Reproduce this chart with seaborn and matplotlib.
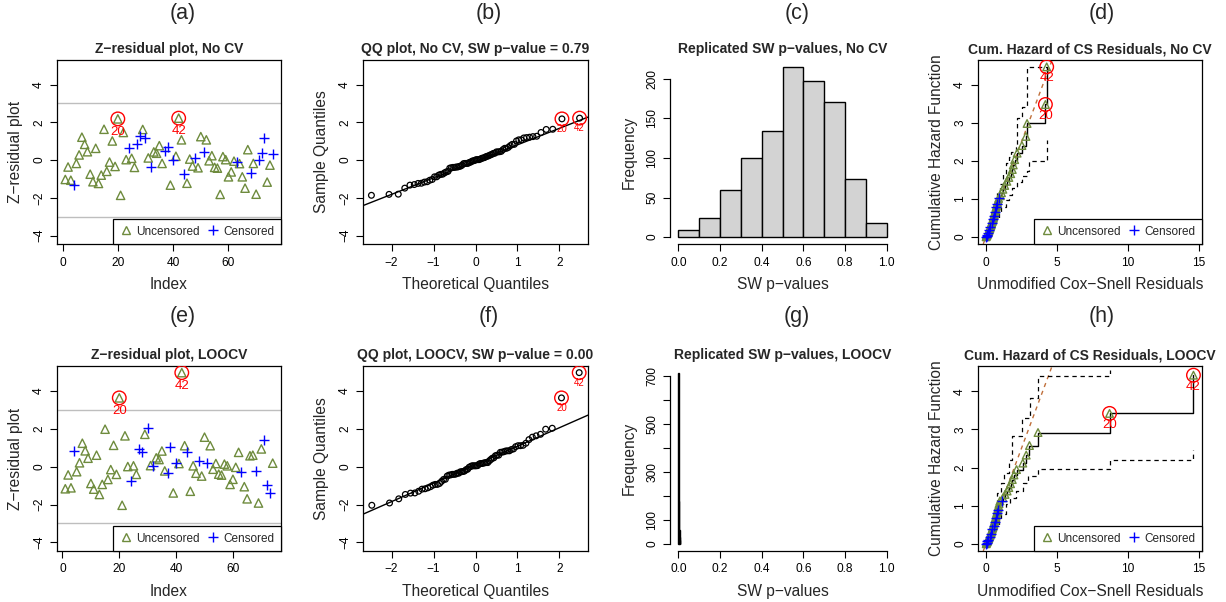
import numpy as np
import pandas as pd
import matplotlib
matplotlib.use("Agg")
import matplotlib.pyplot as plt
import seaborn as sns
from matplotlib.lines import Line2D
from statistics import NormalDist

# ------------------------------------------------------------------ data
# Z-residuals, No CV (panel a), in index order 1..76
z_nocv = [-1.03, -0.37, -1.07, -1.30, -0.18, 0.27, 1.21, 0.83, 0.44, -0.75,
          -1.15, 0.62, -1.24, -0.80, 1.63, -0.60, -0.11, 1.01, -0.34, 2.18,
          -1.87, 1.46, 0.02, 0.62, 0.09, -0.39, 0.83, 1.26, 1.62, 1.19,
          0.11, -0.37, 0.43, 0.36, 0.76, -0.18, 0.46, 0.67, -1.33, -0.02,
          0.20, 2.22, 1.07, -0.76, -1.23, 0.05, -0.32, 0.13, -0.41, 1.24,
          0.43, 1.07, -0.04, 0.23, -0.39, -0.43, -1.82, 0.18, 0.02, -0.89,
          -0.63, -0.06, -0.13, -0.19, -0.89, -1.49, 0.55, -0.68, -0.18, -1.81,
          0.02, 0.35, 1.17, -1.17, -0.27, 0.30]
censored_nocv = [4, 24, 27, 28, 30, 32, 37, 38, 40, 44, 48, 51, 63, 68, 71, 72, 73, 76]

# Z-residuals, LOOCV (panel e)
z_loocv = [-1.17, -0.44, -1.12, 0.83, -0.27, 0.20, 1.23, 0.83, 0.44, -0.89,
           -1.19, 0.60, -1.47, -0.94, 1.97, -0.68, -0.16, 1.12, -0.41, 3.62,
           -2.04, 1.62, 0.00, -0.78, 0.04, -0.41, 0.90, 0.76, 1.70, 2.02,
           0.05, 0.04, 0.46, 0.37, 0.82, -0.23, -0.35, 1.05, -1.39, 0.21,
           0.16, 4.95, 1.10, 0.78, -1.30, 0.04, -0.35, 0.30, -0.50, 1.55,
           0.21, 1.10, -0.14, 0.16, -0.40, -0.45, 0.13, 0.04, -0.94, -0.67,
           -0.04, 0.75, -0.28, -1.06, -1.70, 0.57, 0.60, -0.26, -1.92, 0.93,
           1.42, -0.98, -1.40, 0.18]
censored_loocv = [4, 24, 27, 28, 30, 32, 37, 38, 40, 44, 48, 51, 63, 68, 71, 72, 73]

outlier_ids = [20, 42]

# QQ reference lines (intercept, slope)
qq_line_nocv = (-0.07, 0.875)
qq_line_loocv = (0.10, 0.974)
sw_p_nocv = "0.79"
sw_p_loocv = "0.00"

# Replicated SW p-value histograms
hist_edges_nocv = [0.0, 0.1, 0.2, 0.3, 0.4, 0.5, 0.6, 0.7, 0.8, 0.9, 1.0]
hist_counts_nocv = [9, 24, 60, 100, 134, 215, 197, 170, 73, 18]
hist_edges_loocv = [0.0, 0.002, 0.004, 0.006, 0.008, 0.010]
hist_counts_loocv = [712, 180, 60, 30, 18]

# Cox-Snell residuals vs cumulative hazard, No CV (panel d)
cs_x_nocv = [0.01, 0.02, 0.04, 0.05, 0.07, 0.09, 0.10, 0.12, 0.15, 0.16,
             0.18, 0.21, 0.23, 0.24, 0.27, 0.29, 0.31, 0.32, 0.35, 0.37,
             0.39, 0.41, 0.43, 0.45, 0.47, 0.49, 0.50, 0.52, 0.54, 0.56,
             0.58, 0.60, 0.62, 0.64, 0.66, 0.68, 0.70, 0.72, 0.74, 0.76,
             0.78, 0.80, 0.82, 0.86, 0.90, 0.95, 1.02, 1.10, 1.20, 1.33,
             1.48, 1.62, 1.75, 1.86, 1.93, 2.03, 2.20, 2.54, 2.82, 2.90,
             4.19, 4.28]
cs_h_nocv = [0.01, 0.01, 0.03, 0.03, 0.05, 0.06, 0.06, 0.09, 0.11, 0.11,
             0.14, 0.16, 0.19, 0.19, 0.22, 0.24, 0.27, 0.27, 0.30, 0.33,
             0.35, 0.38, 0.38, 0.41, 0.44, 0.47, 0.47, 0.50, 0.53, 0.56,
             0.56, 0.60, 0.63, 0.67, 0.67, 0.71, 0.75, 0.79, 0.79, 0.83,
             0.87, 0.87, 0.91, 0.96, 1.02, 1.02, 1.09, 1.17, 1.26, 1.36,
             1.47, 1.57, 1.67, 1.78, 1.90, 2.04, 2.21, 2.41, 2.65, 2.99,
             3.49, 4.48]
cs_event_nocv = [0, 1, 1, 0, 1, 1, 0, 1, 1, 0,
                 1, 1, 1, 0, 1, 1, 1, 0, 1, 1,
                 1, 1, 0, 1, 1, 1, 0, 1, 1, 1,
                 0, 1, 1, 1, 0, 1, 1, 1, 0, 1,
                 1, 0, 1, 1, 1, 0, 1, 1, 1, 1,
                 1, 1, 1, 1, 1, 1, 1, 1, 1, 1,
                 1, 1]
band_up_x_nocv = [0.00, 0.10, 0.25, 0.40, 0.55, 0.70, 0.81, 1.00, 1.20, 1.40, 1.60, 1.80, 2.09, 2.20, 2.56, 2.90, 4.28]
band_up_y_nocv = [0.05, 0.20, 0.40, 0.60, 0.80, 1.00, 1.20, 1.40, 1.65, 1.95, 2.10, 2.25, 2.38, 3.13, 3.43, 4.48, 4.48]
band_lo_x_nocv = [0.00, 0.15, 0.30, 0.50, 0.70, 0.90, 1.10, 1.40, 1.60, 1.86, 2.20, 2.56, 2.90, 3.02, 4.19, 4.28]
band_lo_y_nocv = [0.00, 0.08, 0.18, 0.32, 0.48, 0.63, 0.80, 0.99, 1.12, 1.29, 1.45, 1.60, 1.75, 2.01, 2.03, 2.56]

# Cox-Snell residuals vs cumulative hazard, LOOCV (panel h)
cs_x_loocv = [0.01, 0.03, 0.04, 0.06, 0.08, 0.10, 0.11, 0.13, 0.16, 0.17,
              0.20, 0.22, 0.25, 0.26, 0.29, 0.31, 0.33, 0.35, 0.37, 0.40,
              0.42, 0.44, 0.46, 0.48, 0.50, 0.52, 0.54, 0.56, 0.58, 0.60,
              0.62, 0.64, 0.66, 0.68, 0.70, 0.72, 0.74, 0.76, 0.78, 0.80,
              0.82, 0.84, 0.86, 0.89, 0.93, 0.99, 1.12, 1.20, 1.35, 1.50,
              1.62, 1.74, 1.86, 1.98, 2.16, 2.60, 2.84, 3.07, 3.67, 8.70,
              14.60]
cs_h_loocv = [0.01, 0.01, 0.03, 0.03, 0.05, 0.07, 0.07, 0.09, 0.12, 0.12,
              0.14, 0.17, 0.19, 0.19, 0.22, 0.25, 0.27, 0.27, 0.30, 0.33,
              0.36, 0.39, 0.39, 0.42, 0.45, 0.48, 0.48, 0.51, 0.55, 0.58,
              0.58, 0.62, 0.65, 0.69, 0.69, 0.73, 0.77, 0.81, 0.81, 0.85,
              0.89, 0.89, 0.94, 1.00, 1.06, 1.13, 1.13, 1.21, 1.30, 1.39,
              1.48, 1.58, 1.69, 1.81, 1.95, 2.12, 2.33, 2.58, 2.92, 3.42,
              4.42]
cs_event_loocv = [0, 1, 1, 0, 1, 1, 0, 1, 1, 0,
                  1, 1, 1, 0, 1, 1, 1, 0, 1, 1,
                  1, 1, 0, 1, 1, 1, 0, 1, 1, 1,
                  0, 1, 1, 1, 0, 1, 1, 1, 0, 1,
                  1, 0, 1, 1, 1, 1, 0, 1, 1, 1,
                  1, 1, 1, 1, 1, 1, 1, 1, 1, 1,
                  1]
band_up_x_loocv = [0.00, 0.10, 0.25, 0.40, 0.55, 0.70, 0.81, 1.05, 1.28, 1.63, 1.86, 2.56, 3.14, 3.67, 8.70]
band_up_y_loocv = [0.05, 0.20, 0.40, 0.60, 0.80, 1.05, 1.35, 1.60, 1.86, 2.20, 2.83, 3.30, 3.82, 4.39, 4.55]
band_lo_x_loocv = [0.00, 0.15, 0.30, 0.50, 0.70, 0.90, 1.10, 1.40, 1.70, 2.10, 2.60, 3.00, 3.67, 8.70, 14.60]
band_lo_y_loocv = [0.00, 0.08, 0.18, 0.32, 0.48, 0.63, 0.80, 1.05, 1.20, 1.40, 1.60, 1.79, 1.96, 2.20, 2.47]
haz_labels = ["20", "42"]   # the last two points of each hazard curve

panel_letters = ["(a)", "(b)", "(c)", "(d)", "(e)", "(f)", "(g)", "(h)"]

# ------------------------------------------------------------------ style
GREEN = "#6E8B3D"
BLUE = "#0000FF"
RED = "#FF0000"
BROWN = "#C0703C"
GRAYLINE = "#BEBEBE"
HISTFILL = "#D3D3D3"

sns.set_theme(style="white")
plt.rcParams["font.family"] = ["Liberation Sans", "DejaVu Sans"]
plt.rcParams.update({
    "axes.edgecolor": "black",
    "axes.linewidth": 0.9,
    "xtick.bottom": True, "ytick.left": True,
    "xtick.direction": "out", "ytick.direction": "out",
    "xtick.major.size": 5, "ytick.major.size": 5,
    "xtick.major.width": 0.8, "ytick.major.width": 0.8,
    "xtick.color": "black", "ytick.color": "black",
    "xtick.labelsize": 8.6, "ytick.labelsize": 8.6,
    "xtick.major.pad": 4, "ytick.major.pad": 3.5,
    "axes.labelsize": 11.2,
    "axes.titlesize": 10,
    "axes.titleweight": "bold",
    "axes.titlepad": 5,
})

W, H = 1226, 602
fig = plt.figure(figsize=(W / 100, H / 100), dpi=100)


def rect(l, t, r, b):
    return [l / W, 1 - b / H, (r - l) / W, (b - t) / H]


cols = [(57, 281), (363, 588), (670, 895), (978, 1202)]
rows = [(60, 244), (366, 551)]
axes = [[fig.add_axes(rect(c[0], r[0], c[1], r[1])) for c in cols] for r in rows]
label_x = [183, 489, 797, 1102]
label_y = [14, 317]
for ri in range(2):
    for ci in range(4):
        fig.text(label_x[ci] / W, 1 - label_y[ri] / H, panel_letters[ri * 4 + ci],
                 ha="center", va="center", fontsize=15.5)


def rotate_yticks(ax):
    for lab in ax.get_yticklabels():
        lab.set_rotation(90)
        lab.set_va("center")


def status_legend(ax):
    handles = [Line2D([], [], marker="^", ls="none", mfc="none", mec=GREEN, ms=6, mew=1),
               Line2D([], [], marker="+", ls="none", color=BLUE, ms=7, mew=1)]
    leg = ax.legend(handles, ["Uncensored", "Censored"], loc="lower right", ncol=2,
                    frameon=True, fancybox=False, edgecolor="black", framealpha=1,
                    borderaxespad=0, fontsize=8.5, handlelength=1.0, handletextpad=0.4,
                    columnspacing=0.6, borderpad=0.55)
    leg.get_frame().set_linewidth(0.9)


def mark_outliers(ax, xs, ys, labels, fs, dy):
    sns.scatterplot(x=list(xs), y=list(ys), marker="o", s=95, facecolor="none", edgecolor=RED,
                    linewidth=1, ax=ax, zorder=5, legend=False)
    for x, y, t in zip(xs, ys, labels):
        ax.annotate(t, (x, y), xytext=(0, dy), textcoords="offset points",
                    ha="center", va="top", color=RED, fontsize=fs)


def zresid_panel(ax, z, cens, title):
    df = pd.DataFrame({"Index": np.arange(1, len(z) + 1), "z": z})
    df["cens"] = df["Index"].isin(cens)
    ax.axhline(3, color=GRAYLINE, lw=1, zorder=1)
    ax.axhline(-3, color=GRAYLINE, lw=1, zorder=1)
    unc = df[~df["cens"]]
    cen = df[df["cens"]]
    sns.scatterplot(data=unc, x="Index", y="z", marker="^", s=36, facecolor="none",
                    edgecolor=GREEN, linewidth=1, ax=ax, zorder=3, legend=False)
    sns.scatterplot(data=cen, x="Index", y="z", marker="+", s=55, color=BLUE,
                    linewidth=1, ax=ax, zorder=3, legend=False)
    out = df[df["Index"].isin(outlier_ids)]
    mark_outliers(ax, out["Index"].values, out["z"].values,
                  [str(i) for i in out["Index"]], 9.5, -5)
    n = len(z)
    pad = 0.04 * (n - 1)
    ax.set_xlim(1 - pad, n + pad)
    ax.set_ylim(-4.45, 5.3)
    ax.set_xticks([0, 20, 40, 60])
    ax.set_yticks([-4, -2, 0, 2, 4])
    rotate_yticks(ax)
    ax.set_xlabel("Index", labelpad=6)
    ax.set_ylabel("Z\u2212residual plot", labelpad=7)
    ax.set_title(title)
    status_legend(ax)


def qq_panel(ax, z, line, title):
    n = len(z)
    nd = NormalDist()
    order = np.argsort(z)
    zs = np.asarray(z)[order]
    theo = np.array([nd.inv_cdf((i - 0.5) / n) for i in range(1, n + 1)])
    sns.scatterplot(x=theo, y=zs, marker="o", s=17, facecolor="none", edgecolor="black",
                    linewidth=0.9, ax=ax, zorder=3, legend=False)
    ax.axline((0, line[0]), slope=line[1], color="black", lw=1, zorder=2)
    ids = np.arange(1, n + 1)[order]
    sel = np.isin(ids, outlier_ids)
    mark_outliers(ax, theo[sel], zs[sel], [str(i) for i in ids[sel]], 7, -3.5)
    ax.set_xlim(-2.68, 2.68)
    ax.set_ylim(-4.45, 5.3)
    ax.set_xticks([-2, -1, 0, 1, 2])
    ax.set_yticks([-4, -2, 0, 2, 4])
    rotate_yticks(ax)
    ax.set_xlabel("Theoretical Quantiles", labelpad=6)
    ax.set_ylabel("Sample Quantiles", labelpad=7)
    ax.set_title(title)


def hist_panel(ax, edges, counts, title, yticks, ylabels, ytop):
    e = np.asarray(edges, dtype=float)
    hdf = pd.DataFrame({"mid": (e[:-1] + e[1:]) / 2, "count": counts})
    sns.histplot(data=hdf, x="mid", weights="count", bins=list(edges), color=HISTFILL,
                 edgecolor="black", linewidth=1.0, alpha=1, ax=ax)
    ymax = max(counts)
    ax.set_xlim(-0.04, 1.04)
    ax.set_ylim(-0.04 * ymax, ymax * 1.04)
    ax.set_xticks([0.0, 0.2, 0.4, 0.6, 0.8, 1.0])
    ax.set_xticklabels(["0.0", "0.2", "0.4", "0.6", "0.8", "1.0"])
    ax.set_yticks(yticks)
    ax.set_yticklabels(ylabels)
    rotate_yticks(ax)
    for s in ["top", "right"]:
        ax.spines[s].set_visible(False)
    ax.spines["bottom"].set_bounds(0, 1)
    ax.spines["left"].set_bounds(0, ytop)
    ax.set_xlabel("SW p\u2212values", labelpad=6)
    ax.set_ylabel("Frequency", labelpad=7)
    ax.set_title(title)


def hazard_panel(ax, x, h, ev, ux, uy, lx, ly, title):
    df = pd.DataFrame({"x": x, "h": h, "ev": ev})
    ax.axline((0, 0), slope=1, color=BROWN, lw=1, ls=(0, (3, 3)), zorder=2)
    sns.lineplot(x=ux, y=uy, drawstyle="steps-post", color="black", lw=0.9,
                 ls=(0, (3.5, 3)), estimator=None, sort=False, ax=ax, zorder=2)
    sns.lineplot(x=lx, y=ly, drawstyle="steps-post", color="black", lw=0.9,
                 ls=(0, (3.5, 3)), estimator=None, sort=False, ax=ax, zorder=2)
    sns.lineplot(data=df, x="x", y="h", drawstyle="steps-post", color="black", lw=1,
                 estimator=None, sort=False, ax=ax, zorder=3)
    unc = df[df["ev"] == 1]
    cen = df[df["ev"] == 0]
    sns.scatterplot(data=unc, x="x", y="h", marker="^", s=30, facecolor="none",
                    edgecolor=GREEN, linewidth=1, ax=ax, zorder=4, legend=False)
    sns.scatterplot(data=cen, x="x", y="h", marker="+", s=45, color=BLUE,
                    linewidth=1, ax=ax, zorder=4, legend=False)
    mark_outliers(ax, df["x"].values[-2:], df["h"].values[-2:], haz_labels, 9.5, -4)
    ax.set_xlim(-0.55, 15.2)
    ax.set_ylim(-0.18, 4.66)
    ax.set_xticks([0, 5, 10, 15])
    ax.set_yticks([0, 1, 2, 3, 4])
    rotate_yticks(ax)
    ax.set_xlabel("Unmodified Cox\u2212Snell Residuals", labelpad=6)
    ax.set_ylabel("Cumulative Hazard Function", labelpad=7)
    ax.set_title(title)
    status_legend(ax)


zresid_panel(axes[0][0], z_nocv, censored_nocv, "Z\u2212residual plot, No CV")
zresid_panel(axes[1][0], z_loocv, censored_loocv, "Z\u2212residual plot, LOOCV")
qq_panel(axes[0][1], z_nocv, qq_line_nocv, f"QQ plot, No CV, SW p\u2212value = {sw_p_nocv}")
qq_panel(axes[1][1], z_loocv, qq_line_loocv, f"QQ plot, LOOCV, SW p\u2212value = {sw_p_loocv}")
hist_panel(axes[0][2], hist_edges_nocv, hist_counts_nocv, "Replicated SW p\u2212values, No CV",
           [0, 50, 100, 150, 200], ["0", "50", "100", "150", "200"], 200)
hist_panel(axes[1][2], hist_edges_loocv, hist_counts_loocv, "Replicated SW p\u2212values, LOOCV",
           [0, 100, 200, 300, 400, 500, 600, 700],
           ["0", "100", "", "300", "", "500", "", "700"], 700)
hazard_panel(axes[0][3], cs_x_nocv, cs_h_nocv, cs_event_nocv, band_up_x_nocv, band_up_y_nocv,
             band_lo_x_nocv, band_lo_y_nocv, "Cum. Hazard of CS Residuals, No CV")
hazard_panel(axes[1][3], cs_x_loocv, cs_h_loocv, cs_event_loocv, band_up_x_loocv, band_up_y_loocv,
             band_lo_x_loocv, band_lo_y_loocv, "Cum. Hazard of CS Residuals, LOOCV")

fig.savefig("out.png", dpi=100)
